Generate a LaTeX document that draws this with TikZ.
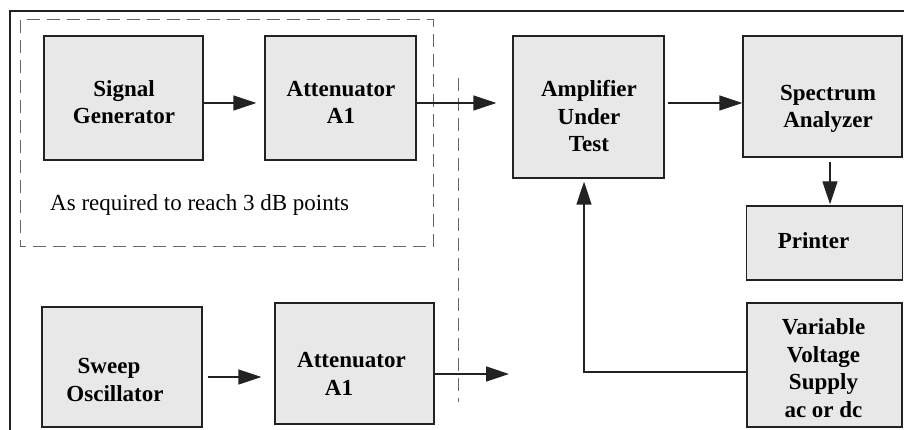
\documentclass[tikz,border=0pt]{standalone}
\usepackage{fontspec}
\setmainfont{Liberation Serif}
\usetikzlibrary{arrows.meta}
\definecolor{boxgray}{HTML}{E8E8E8}
\definecolor{linedark}{HTML}{222222}
\definecolor{dashgray}{HTML}{666666}
\tikzset{
  box/.style={draw=linedark, fill=boxgray, line width=1.4pt, inner sep=0pt},
  lbl/.style={font=\bfseries\fontsize{23}{27.5}\selectfont, align=center, inner sep=0pt, anchor=base},
  arr/.style={-{Triangle[length=23pt,width=15pt]}, line width=1.4pt, draw=linedark},
  dashline/.style={draw=dashgray, line width=1pt, dash pattern=on 13pt off 7pt},
  frameline/.style={draw=linedark, line width=1.6pt},
}
\begin{document}
\begin{tikzpicture}[x=1pt,y=1pt]
\useasboundingbox (0,0) rectangle (904,-430);
% frame
\draw[frameline] (10,-430) -- (10,-11) -- (904,-11);
% dashed regions
\draw[dashline] (20,-20) rectangle (433,-247);
\draw[dashline] (458,-78) -- (458,-402);
% boxes
\node[box, minimum width=159pt, minimum height=124pt] (sg) at (123.5,-98) {};
\node[box, minimum width=151pt, minimum height=124pt] (att1) at (340.5,-98) {};
\node[box, minimum width=151pt, minimum height=142pt] (amp) at (588.5,-107) {};
\node[box, minimum width=159pt, minimum height=121pt] (spec) at (822.5,-96.5) {};
\node[box, minimum width=156pt, minimum height=74pt] (printer) at (824.5,-243) {};
\node[box, minimum width=155pt, minimum height=124pt] (vvs) at (824.5,-365) {};
\node[box, minimum width=160pt, minimum height=120pt] (sweep) at (122,-367) {};
\node[box, minimum width=159pt, minimum height=121pt] (att2) at (354.5,-363.5) {};
% labels (anchor = baseline of the last line)
\node[lbl] (sg-t) at (124,-124) {Signal\\Generator};
\node[lbl] (att1-t) at (341,-124) {Attenuator\\A1};
\node[lbl] (amp-t) at (589,-152) {Amplifier\\Under\\Test};
\node[lbl] (spec-t) at (828,-128) {Spectrum\\Analyzer};
\node[lbl] (printer-t) at (813.5,-248) {Printer};
\node[lbl] (sweep-t) at (115,-401) {Sweep\hspace*{12pt}\\Oscillator};
\node[lbl] (att2-t) at (351.5,-395) {Attenuator\\A1\hspace*{25pt}};
\node[lbl] (vvs-t) at (823.5,-417) {Variable\\Voltage\\Supply\\ac or dc};
\node[font=\fontsize{23}{27.5}\selectfont, inner sep=0pt, anchor=base west] (note) at (50,-211) {As required to reach 3 dB points};
% connectors
\coordinate (out) at (509,-374);
\draw[arr, shorten >=8pt] ([yshift=-5pt]sg.east) -- ([yshift=-5pt]sg.east -| att1.west);
\draw[arr, shorten >=16pt] ([yshift=-5pt]att1.east) -- ([yshift=-5pt]att1.east -| amp.west);
\draw[arr, shorten <=3pt] ([yshift=4pt]amp.east) -- ([yshift=4pt]amp.east -| spec.west);
\draw[arr, shorten <=4pt, shorten >=1pt] ([xshift=7.5pt]spec.south) -- ([xshift=7.5pt]spec.south |- printer.north);
\draw[arr, shorten >=3pt] ([yshift=-7pt]vvs.west) -| ([xshift=-4.5pt]amp.south);
\draw[arr, shorten <=5pt, shorten >=13pt] ([yshift=-10pt]sweep.east) -- ([yshift=-10pt]sweep.east -| att2.west);
\draw[arr] ([yshift=-10.5pt]att2.east) -- (out);
\end{tikzpicture}
\end{document}
